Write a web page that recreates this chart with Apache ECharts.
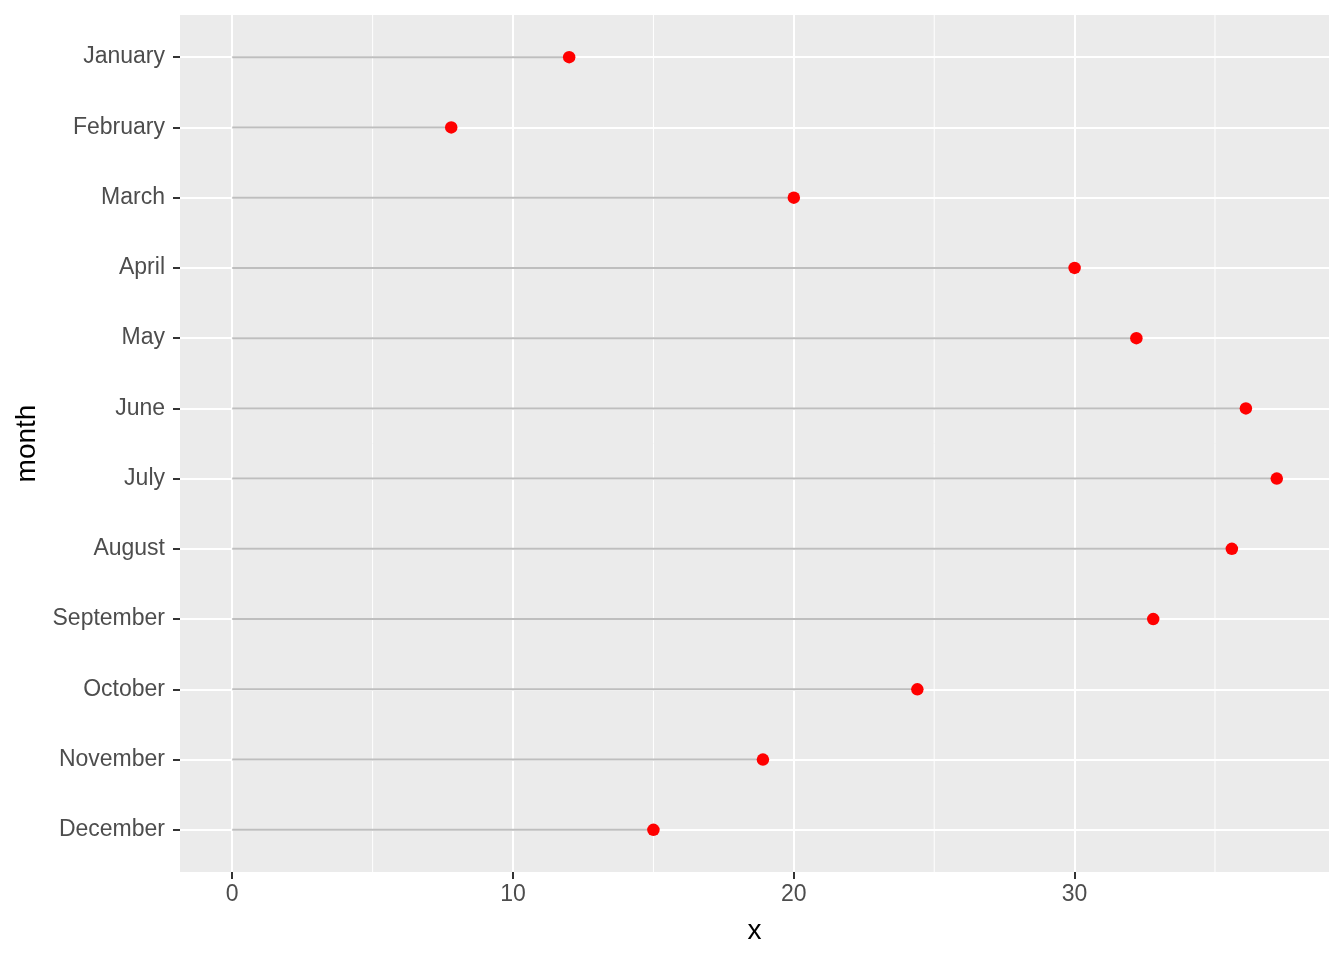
<!DOCTYPE html>
<html>
<head>
<meta charset="utf-8">
<script src="https://cdn.jsdelivr.net/npm/echarts@6/dist/echarts.min.js"></script>
<style>
  html, body { margin: 0; padding: 0; background: #fff; }
  #chart { width: 1344px; height: 960px; }
</style>
</head>
<body>
<div id="chart"></div>
<script>
// data
var months = ["January", "February", "March", "April", "May", "June",
  "July", "August", "September", "October", "November", "December"];
var values = [12, 7.8, 20, 30, 32.2, 36.1, 37.2, 35.6, 32.8, 24.4, 18.9, 15];
var xTicks = [0, 10, 20, 30];
var xMinor = [5, 15, 25, 35];

var font = "Liberation Sans, Arial, Helvetica, sans-serif";

// ggplot style padding: 5% on the value axis, 0.6 on the discrete one
var xMin = -0.05 * 37.2, xMax = 37.2 * 1.05;

var points = values.map(function (v, i) { return [v, i]; });
var monthIdx = months.map(function (m, i) { return i; });

var chart = echarts.init(document.getElementById("chart"));
chart.setOption({
  animation: false,
  backgroundColor: "#fff",
  grid: {
    left: 180,
    right: 15,
    top: 15,
    bottom: 88,
    show: true,
    backgroundColor: "#ebebeb",
    borderWidth: 0
  },
  xAxis: {
    type: "value",
    min: xMin,
    max: xMax,
    name: "x",
    nameLocation: "middle",
    nameGap: 45,
    nameTextStyle: { color: "#000", fontSize: 28, fontFamily: font },
    axisLine: { show: true, onZero: false, lineStyle: { color: "#333", opacity: 0 } },
    axisTick: {
      show: true,
      customValues: xTicks,
      length: 7,
      lineStyle: { color: "#333", width: 2, opacity: 1 }
    },
    axisLabel: {
      customValues: xTicks,
      color: "#4d4d4d",
      fontSize: 23,
      fontFamily: font,
      margin: 11
    },
    splitLine: { show: true, lineStyle: { color: "#fff", width: 2 } }
  },
  yAxis: {
    type: "value",
    min: -0.6,
    max: 11.6,
    inverse: true,
    name: "month",
    nameLocation: "middle",
    nameGap: 138,
    nameRotate: 90,
    nameTextStyle: { color: "#000", fontSize: 28, fontFamily: font },
    axisLine: { show: true, onZero: false, lineStyle: { color: "#333", opacity: 0 } },
    axisTick: {
      show: true,
      customValues: monthIdx,
      length: 7,
      lineStyle: { color: "#333", width: 2, opacity: 1 }
    },
    axisLabel: {
      customValues: monthIdx,
      color: "#4d4d4d",
      fontSize: 23,
      fontFamily: font,
      margin: 15,
      padding: [2, 0, 0, 0],
      formatter: function (v) { return months[Math.round(v)]; }
    },
    splitLine: { show: true, lineStyle: { color: "#fff", width: 2 } }
  },
  series: [
    {
      // minor vertical grid lines
      type: "custom",
      z: 1,
      silent: true,
      data: xMinor,
      renderItem: function (params, api) {
        var a = api.coord([api.value(0), -0.6]);
        var b = api.coord([api.value(0), 11.6]);
        return {
          type: "line",
          shape: { x1: a[0], y1: a[1], x2: b[0], y2: b[1] },
          style: { stroke: "#fff", lineWidth: 1 }
        };
      }
    },
    {
      // lollipop sticks
      type: "custom",
      z: 2,
      data: points,
      renderItem: function (params, api) {
        var a = api.coord([0, api.value(1)]);
        var b = api.coord([api.value(0), api.value(1)]);
        return {
          type: "line",
          shape: { x1: a[0], y1: a[1], x2: b[0], y2: b[1] },
          style: { stroke: "#bebebe", lineWidth: 2 }
        };
      }
    },
    {
      type: "scatter",
      z: 3,
      data: points,
      symbolSize: 12.5,
      itemStyle: { color: "#ff0000", opacity: 1 }
    }
  ]
});
</script>
</body>
</html>
